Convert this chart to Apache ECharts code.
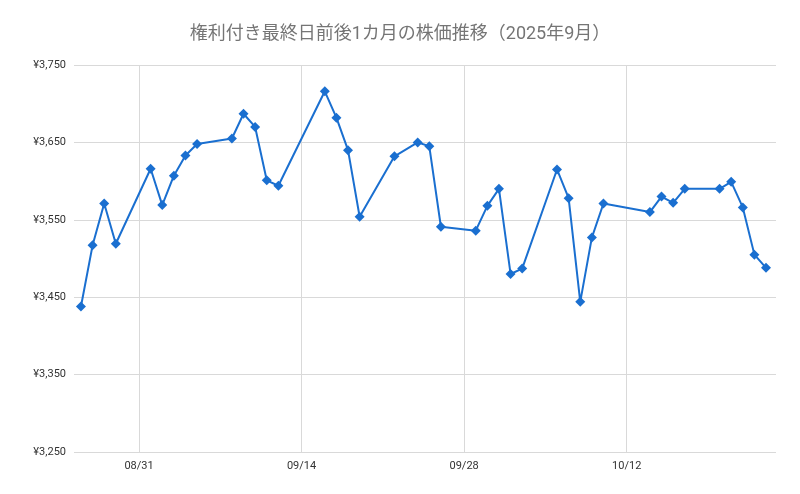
<!DOCTYPE html>
<html>
<head>
<meta charset="utf-8">
<script src="https://cdn.jsdelivr.net/npm/echarts@6/dist/echarts.min.js"></script>
<style>
html,body{margin:0;padding:0;background:#fff;}
#c{width:800px;height:494px;}
</style>
</head>
<body>
<div id="c"></div>
<script>
const titleText = '権利付き最終日前後1カ月の株価推移（2025年9月）';
const dates = [
  '2025-08-26','2025-08-27','2025-08-28','2025-08-29',
  '2025-09-01','2025-09-02','2025-09-03','2025-09-04','2025-09-05',
  '2025-09-08','2025-09-09','2025-09-10','2025-09-11','2025-09-12',
  '2025-09-16','2025-09-17','2025-09-18','2025-09-19',
  '2025-09-22','2025-09-24','2025-09-25','2025-09-26',
  '2025-09-29','2025-09-30','2025-10-01','2025-10-02','2025-10-03',
  '2025-10-06','2025-10-07','2025-10-08','2025-10-09','2025-10-10',
  '2025-10-14','2025-10-15','2025-10-16','2025-10-17',
  '2025-10-20','2025-10-21','2025-10-22','2025-10-23','2025-10-24'
];
const prices = [
  3438, 3517, 3571, 3519,
  3616, 3569, 3607, 3633, 3648,
  3655, 3687, 3670, 3601, 3594,
  3716, 3682, 3640, 3554,
  3632, 3650, 3645, 3541,
  3536, 3568, 3590, 3480, 3487,
  3615, 3578, 3444, 3527, 3571,
  3560, 3580, 3572, 3590,
  3590, 3599, 3566, 3505, 3488
];
const xTickLabels = ['2025-08-31','2025-09-14','2025-09-28','2025-10-12'];
const yTicks = [3250, 3350, 3450, 3550, 3650, 3750];

function toTime(s){
  const p = s.split('-').map(Number);
  return new Date(p[0], p[1]-1, p[2]).getTime();
}
function pad(n){ return (n<10?'0':'') + n; }
const DAY = 86400000;
const xTicks = xTickLabels.map(toTime);
const seriesData = dates.map((d,i) => [toTime(d), prices[i]]);

const font = 'Roboto, "Noto Sans CJK JP", sans-serif';
const chart = echarts.init(document.getElementById('c'), null, {renderer:'canvas'});
chart.setOption({
  animation: false,
  backgroundColor: '#ffffff',
  title: {
    text: titleText,
    left: 'center',
    top: 21,
    textStyle: { fontFamily: font, fontSize: 18, fontWeight: 'normal', color: '#757575' }
  },
  grid: { left: 74, right: 24, top: 65, bottom: 42 },
  xAxis: {
    type: 'value',
    min: toTime(dates[0]) - 0.6*DAY,
    max: toTime(dates[dates.length-1]) + 0.86*DAY,
    axisLine: { show: false },
    axisTick: { show: false, customValues: xTicks },
    axisLabel: {
      customValues: xTicks,
      fontFamily: font, fontSize: 11, color: '#333', margin: 9,
      formatter: v => { const d = new Date(v); return pad(d.getMonth()+1) + '/' + pad(d.getDate()); }
    },
    splitLine: { show: true, lineStyle: { color: '#d9d9d9', width: 1 } }
  },
  yAxis: {
    type: 'value',
    min: 3250,
    max: 3750,
    axisLine: { show: false },
    axisTick: { show: false, customValues: yTicks },
    axisLabel: {
      customValues: yTicks,
      fontFamily: font, fontSize: 11, color: '#333', margin: 8,
      formatter: v => '¥' + v.toLocaleString('en-US')
    },
    splitLine: { show: true, lineStyle: { color: '#d9d9d9', width: 1 } }
  },
  series: [{
    type: 'line',
    data: seriesData,
    symbol: 'diamond',
    symbolSize: 10,
    showSymbol: true,
    lineStyle: { color: '#1a6fd0', width: 2 },
    itemStyle: { color: '#1a6fd0' }
  }]
});
</script>
</body>
</html>
